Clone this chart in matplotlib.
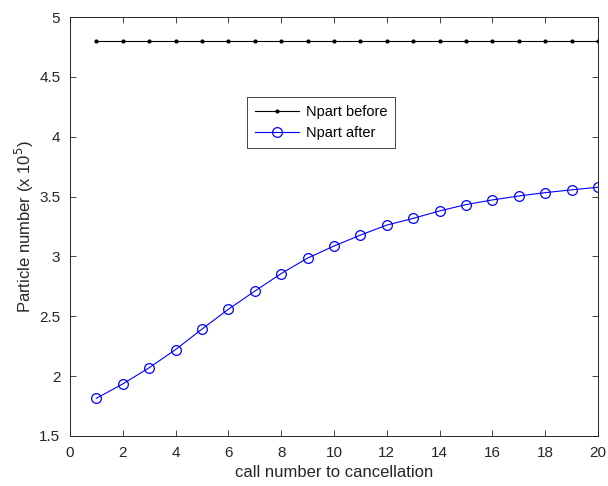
import matplotlib
matplotlib.use("Agg")
import matplotlib.pyplot as plt

plt.rcParams['font.family'] = ['Liberation Sans', 'DejaVu Sans']

calls = list(range(1, 21))
npart_before = [4.8] * 20
npart_after = [1.815, 1.935, 2.07, 2.222, 2.393, 2.559, 2.71, 2.857, 2.986, 3.087,
               3.178, 3.262, 3.318, 3.38, 3.433, 3.472, 3.505, 3.533, 3.556, 3.578]

xticks = list(range(0, 21, 2))
yticks = [1.5, 2, 2.5, 3, 3.5, 4, 4.5, 5]

fig = plt.figure(figsize=(6.08, 4.86), dpi=100)
ax = fig.add_axes([0.1151, 0.1029, 0.8685, 0.8621])

ax.plot(calls, npart_before, color='black', lw=0.8, marker='.', ms=4, label='Npart before')
ax.plot(calls, npart_after, color='blue', lw=0.8, marker='o', ms=7, mfc='none', mew=0.9,
        label='Npart after')

ax.set_xlim(0, 20)
ax.set_ylim(1.5, 5)
ax.set_xticks(xticks)
ax.set_xticklabels([str(t) for t in xticks])
ax.set_yticks(yticks)
ax.set_yticklabels([('%g' % t) for t in yticks])
ax.tick_params(direction='in', top=True, right=True, labelsize=11, colors='#262626',
               length=4, width=0.6, pad=7)
for s in ax.spines.values():
    s.set_color('#262626')
    s.set_linewidth(0.7)

ax.set_xlabel('call number to cancellation', fontsize=12, color='#262626', labelpad=4)
ax.set_ylabel('Particle number (x 10$^5$)', fontsize=12, color='#262626', labelpad=2)

leg = ax.legend(loc='upper left', bbox_to_anchor=(0.335, 0.809), borderaxespad=0,
                fontsize=10.5, fancybox=False, edgecolor='#262626', framealpha=1,
                handlelength=3.0, borderpad=0.55, labelspacing=0.45, handletextpad=0.5)
leg.get_frame().set_linewidth(0.6)

fig.savefig('out.png', dpi=100)
